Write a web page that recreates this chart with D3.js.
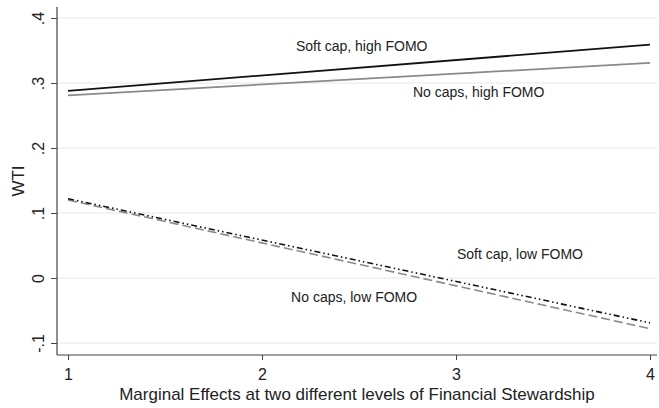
<!DOCTYPE html>
<html>
<head>
<meta charset="utf-8">
<script src="https://cdn.jsdelivr.net/npm/d3@7"></script>
<style>
  html, body { margin: 0; padding: 0; background: #fff; }
  svg { display: block; font-family: Arial, "Liberation Sans", sans-serif; }
</style>
</head>
<body>
<svg id="chart" width="659" height="408"></svg>
<script>
// Financial Stewardship levels on the x axis
const xValues = [1, 4];
const xTicks = [1, 2, 3, 4];
const yTicks = [-0.1, 0, 0.1, 0.2, 0.3, 0.4];
const yTickLabels = ["-.1", "0", ".1", ".2", ".3", ".4"];

// Predicted WTI per group at each end of the range
const softCapHigh = [0.288, 0.359];
const noCapsHigh = [0.281, 0.331];
const softCapLow = [0.122, -0.069];
const noCapsLow = [0.120, -0.078];

const seriesNames = ["Soft cap, high FOMO", "No caps, high FOMO", "Soft cap, low FOMO", "No caps, low FOMO"];
// label anchor points (x value, y value) for each series text
const labelX = [2.175, 2.778, 3.005, 2.15];
const labelY = [0.349, 0.278, 0.029, -0.037];

const svg = d3.select("#chart");
const x = d3.scaleLinear().domain([1, 4]).range([68, 650]);
const y = d3.scaleLinear().domain([0, 0.1]).range([278, 213]);

const plotLeft = 57, plotRight = 657, plotTop = 7, plotBottom = 355;

// horizontal grid
svg.append("g").selectAll("line").data(yTicks).join("line")
  .attr("x1", plotLeft).attr("x2", plotRight)
  .attr("y1", d => y(d)).attr("y2", d => y(d))
  .attr("stroke", "#e8e8e8").attr("stroke-width", 1);

// y axis
const yAxis = d3.axisLeft(y).tickValues(yTicks).tickSize(6)
  .tickFormat((d, i) => yTickLabels[i]);
const gy = svg.append("g").attr("transform", `translate(${plotLeft},0)`).call(yAxis);
gy.select(".domain").attr("d", `M0,${plotTop}V${plotBottom}`).attr("stroke", "#444").attr("stroke-width", 1.2);
gy.selectAll(".tick line").attr("stroke", "#444");
gy.selectAll(".tick text")
  .attr("font-size", 16).attr("fill", "#222")
  .attr("x", 0).attr("dy", 0)
  .attr("text-anchor", "middle")
  .attr("transform", `translate(${44 - plotLeft},0) rotate(-90)`);

// x axis
const xAxis = d3.axisBottom(x).tickValues(xTicks).tickSize(5).tickFormat(d3.format("d"));
const gx = svg.append("g").attr("transform", `translate(0,${plotBottom})`).call(xAxis);
gx.select(".domain").attr("d", `M${plotLeft},0H${plotRight}`).attr("stroke", "#444").attr("stroke-width", 1.2);
gx.selectAll(".tick line").attr("stroke", "#444");
gx.selectAll(".tick text").attr("font-size", 16).attr("fill", "#222")
  .attr("y", 380 - plotBottom).attr("dy", 0);

// axis titles
svg.append("text").attr("x", 357).attr("y", 399.5).attr("text-anchor", "middle")
  .attr("font-size", 17).attr("fill", "#222")
  .text("Marginal Effects at two different levels of Financial Stewardship");
svg.append("text").attr("transform", "translate(24,181) rotate(-90)").attr("text-anchor", "middle")
  .attr("font-size", 17).attr("fill", "#222").text("WTI");

// series lines
const line = d3.line().x((d, i) => x(xValues[i])).y(d => y(d));
const series = [
  { v: noCapsLow, stroke: "#8a8a8a", dash: "9,4", w: 1.6 },
  { v: softCapLow, stroke: "#111", dash: "6,3,1.5,3,1.5,3", w: 1.6 },
  { v: noCapsHigh, stroke: "#8a8a8a", dash: null, w: 1.8 },
  { v: softCapHigh, stroke: "#111", dash: null, w: 1.8 }
];
svg.append("g").selectAll("path").data(series).join("path")
  .attr("d", d => line(d.v))
  .attr("fill", "none")
  .attr("stroke", d => d.stroke)
  .attr("stroke-width", d => d.w)
  .attr("stroke-dasharray", d => d.dash);

// series labels
svg.append("g").selectAll("text").data(seriesNames).join("text")
  .attr("x", (d, i) => x(labelX[i]))
  .attr("y", (d, i) => y(labelY[i]))
  .attr("font-size", 14).attr("fill", "#222")
  .text(d => d);
</script>
</body>
</html>
